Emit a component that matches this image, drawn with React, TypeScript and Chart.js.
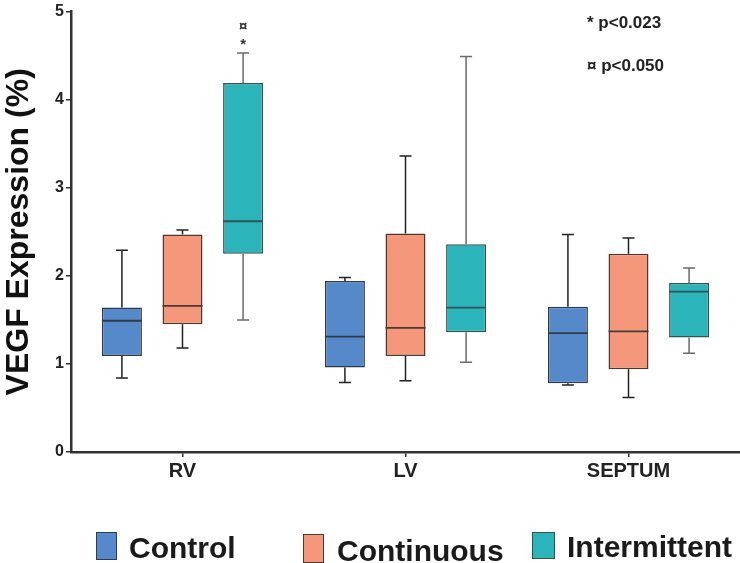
import { useEffect, useRef } from "react";
import { Chart, registerables } from "chart.js";

Chart.register(...registerables);

const categories = ["RV", "LV", "SEPTUM"];
const groups = ["Control", "Continuous", "Intermittent"];
const yTicks = [0, 1, 2, 3, 4, 5];

// box plot values per group, one entry per category
const controlMin = [0.84, 0.79, 0.76];
const controlQ1 = [1.09, 0.96, 0.78];
const controlMedian = [1.49, 1.31, 1.35];
const controlQ3 = [1.64, 1.94, 1.65];
const controlMax = [2.29, 1.98, 2.47];

const continuousMin = [1.18, 0.81, 0.62];
const continuousQ1 = [1.45, 1.09, 0.94];
const continuousMedian = [1.66, 1.41, 1.37];
const continuousQ3 = [2.47, 2.48, 2.25];
const continuousMax = [2.52, 3.36, 2.43];

const intermittentMin = [1.5, 1.02, 1.12];
const intermittentQ1 = [2.25, 1.36, 1.3];
const intermittentMedian = [2.62, 1.64, 1.82];
const intermittentQ3 = [4.19, 2.36, 1.92];
const intermittentMax = [4.53, 4.49, 2.09];

const pValueNotes = ["* p<0.023", "\u00a4 p<0.050"];

const FONT = "'Liberation Sans', Arial, Helvetica, sans-serif";

const fills = ["#5589c9", "#f5977a", "#2bb4b9"];
const borders = ["#2f3a4a", "#4a3a34", "#2f5556"];
const whiskerColors = ["#222222", "#222222", "#6a6a6a"];

const stats = [
  { min: controlMin, q1: controlQ1, median: controlMedian, q3: controlQ3, max: controlMax },
  { min: continuousMin, q1: continuousQ1, median: continuousMedian, q3: continuousQ3, max: continuousMax },
  { min: intermittentMin, q1: intermittentQ1, median: intermittentMedian, q3: intermittentQ3, max: intermittentMax },
];

const whiskerPlugin = {
  id: "whiskers",
  afterDatasetsDraw(chart: any) {
    const ctx = chart.ctx;
    const y = chart.scales.y;
    ctx.save();
    chart.data.datasets.forEach((_ds: any, i: number) => {
      const meta = chart.getDatasetMeta(i);
      const s = stats[i];
      meta.data.forEach((el: any, j: number) => {
        const { x, width } = el.getProps(["x", "width"], true);
        const cap = 6;
        ctx.strokeStyle = whiskerColors[i];
        ctx.lineWidth = 1.5;
        ctx.beginPath();
        ctx.moveTo(x, y.getPixelForValue(s.q3[j]));
        ctx.lineTo(x, y.getPixelForValue(s.max[j]));
        ctx.moveTo(x - cap, y.getPixelForValue(s.max[j]));
        ctx.lineTo(x + cap, y.getPixelForValue(s.max[j]));
        ctx.moveTo(x, y.getPixelForValue(s.q1[j]));
        ctx.lineTo(x, y.getPixelForValue(s.min[j]));
        ctx.moveTo(x - cap, y.getPixelForValue(s.min[j]));
        ctx.lineTo(x + cap, y.getPixelForValue(s.min[j]));
        ctx.stroke();
        // median
        ctx.strokeStyle = borders[i];
        ctx.lineWidth = 1.8;
        ctx.beginPath();
        ctx.moveTo(x - width / 2, y.getPixelForValue(s.median[j]));
        ctx.lineTo(x + width / 2, y.getPixelForValue(s.median[j]));
        ctx.stroke();
      });
    });

    // significance marks above RV intermittent
    const el = chart.getDatasetMeta(2).data[0];
    const top = y.getPixelForValue(intermittentMax[0]);
    ctx.fillStyle = "#333";
    ctx.textAlign = "center";
    ctx.textBaseline = "alphabetic";
    ctx.font = `bold 15px ${FONT}`;
    ctx.fillText("*", el.x, top - 4);
    ctx.fillText("\u00a4", el.x, top - 22);

    // p-value notes
    ctx.fillStyle = "#222";
    ctx.textAlign = "left";
    ctx.font = `bold 17px ${FONT}`;
    ctx.fillText(pValueNotes[0], 587, 28);
    ctx.fillText(pValueNotes[1], 587, 71);
    ctx.restore();
  },
};

const legendItems = [
  { box: { left: 96, top: 532, w: 21, h: 28 }, textLeft: 129, textTop: 533 },
  { box: { left: 303, top: 534, w: 21, h: 29 }, textLeft: 337, textTop: 536 },
  { box: { left: 532, top: 532, w: 23, h: 27 }, textLeft: 567, textTop: 532 },
];

export default function App() {
  const canvasRef = useRef<HTMLCanvasElement>(null);
  const chartRef = useRef<Chart | null>(null);

  useEffect(() => {
    document.body.style.margin = "0";
    if (!canvasRef.current) return;
    if (chartRef.current) chartRef.current.destroy();

    chartRef.current = new Chart(canvasRef.current, {
      type: "bar",
      data: {
        labels: categories,
        datasets: groups.map((g, i) => ({
          label: g,
          data: stats[i].q1.map((v, j) => [v, stats[i].q3[j]]),
          backgroundColor: fills[i],
          borderColor: borders[i],
          borderWidth: 1.5,
          borderSkipped: false,
          categoryPercentage: 0.815,
          barPercentage: 0.66,
        })),
      } as any,
      options: {
        animation: false,
        responsive: false,
        maintainAspectRatio: false,
        layout: { padding: { top: 7, right: 0, bottom: 0, left: 0 } },
        plugins: {
          legend: { display: false },
          tooltip: { enabled: false },
        },
        scales: {
          x: {
            afterFit: (s: any) => {
              s.height = 111;
            },
            grid: {
              offset: false,
              drawOnChartArea: false,
              drawTicks: true,
              tickLength: 5,
              color: "#333",
              lineWidth: 1.5,
            },
            border: { display: true, color: "#333", width: 2.5 },
            ticks: {
              color: "#222",
              padding: 2,
              font: { family: FONT, size: 20, weight: "bold" },
            },
          },
          y: {
            min: 0,
            max: 5,
            afterFit: (s: any) => {
              s.width = 71;
            },
            afterBuildTicks: (s: any) => {
              s.ticks = yTicks.map((v) => ({ value: v }));
            },
            grid: {
              drawOnChartArea: false,
              drawTicks: true,
              tickLength: 5,
              color: "#333",
              lineWidth: 1.5,
            },
            border: { display: true, color: "#333", width: 2.5 },
            ticks: {
              color: "#222",
              padding: 2,
              font: { family: FONT, size: 16, weight: "bold" },
            },
            title: {
              display: true,
              text: "VEGF Expression (%)",
              color: "#111",
              padding: 0,
              font: { family: FONT, size: 32, weight: "bold" },
            },
          },
        },
      } as any,
      plugins: [whiskerPlugin],
    });

    return () => {
      if (chartRef.current) {
        chartRef.current.destroy();
        chartRef.current = null;
      }
    };
  }, []);

  return (
    <div style={{ position: "relative", width: 740, height: 563, background: "#fff", overflow: "hidden" }}>
      <canvas ref={canvasRef} width={740} height={563} style={{ width: 740, height: 563, display: "block" }} />
      {groups.map((g, i) => {
        const it = legendItems[i];
        return (
          <div key={g}>
            <div
              style={{
                position: "absolute",
                left: it.box.left,
                top: it.box.top,
                width: it.box.w,
                height: it.box.h,
                background: fills[i],
                border: `1px solid ${borders[i]}`,
                boxSizing: "border-box",
              }}
            />
            <div
              style={{
                position: "absolute",
                left: it.textLeft,
                top: it.textTop,
                fontFamily: FONT,
                fontWeight: "bold",
                fontSize: 30,
                lineHeight: "30px",
                color: "#1a1a1a",
                whiteSpace: "nowrap",
              }}
            >
              {g}
            </div>
          </div>
        );
      })}
    </div>
  );
}
